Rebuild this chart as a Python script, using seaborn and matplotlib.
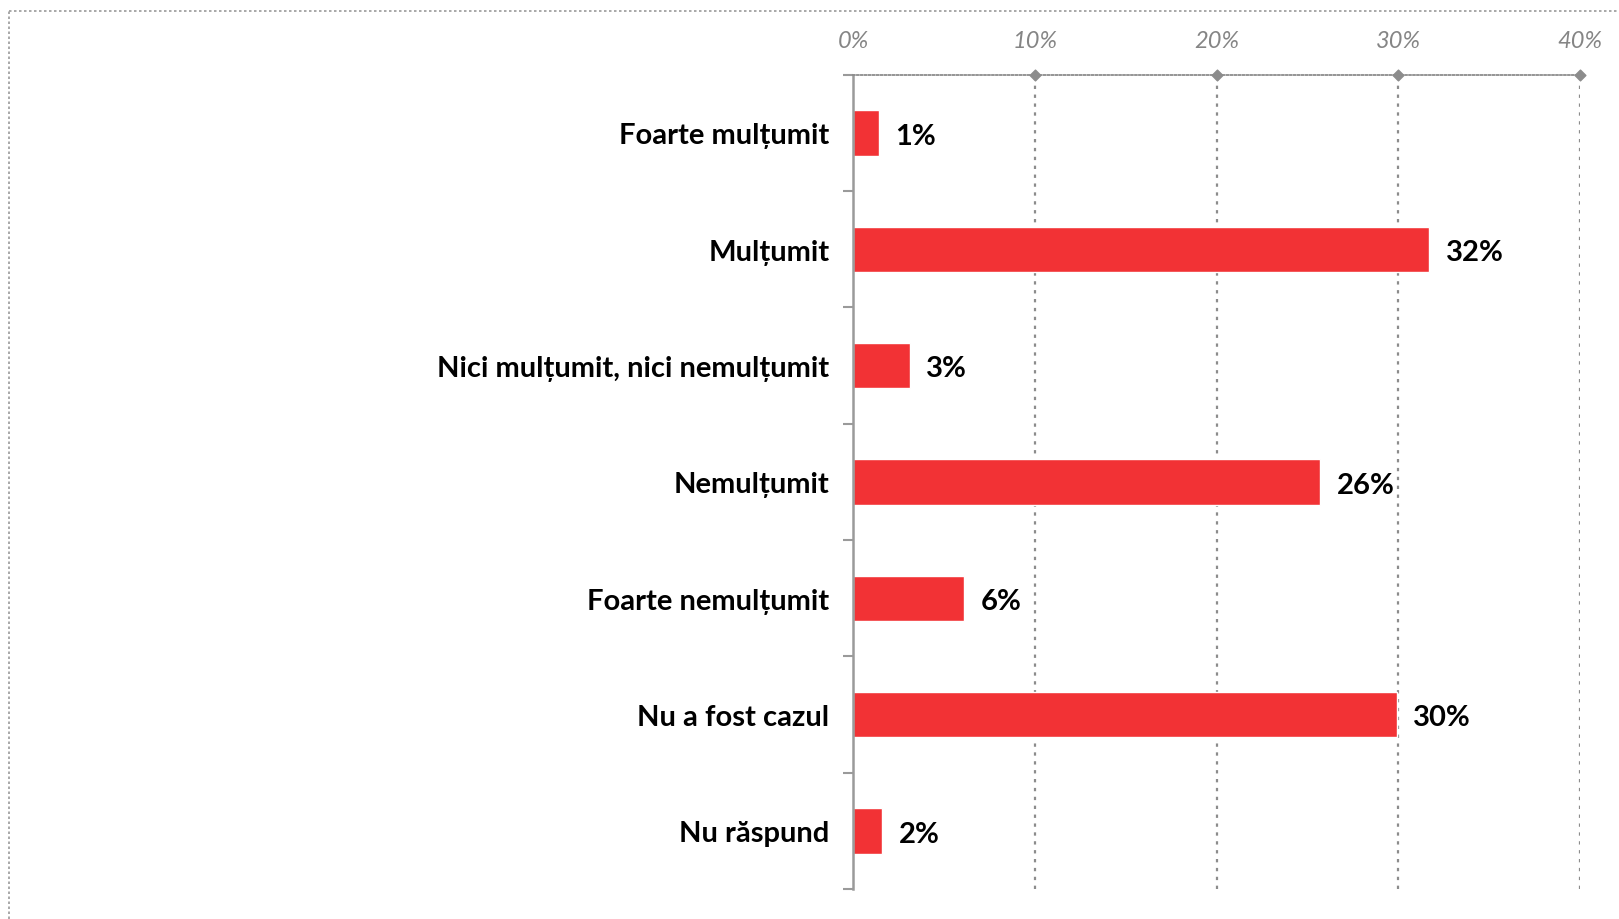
import pandas as pd
import matplotlib.pyplot as plt
import seaborn as sns
from matplotlib.lines import Line2D

# values (percent)
categories = ["Foarte mulțumit", "Mulțumit", "Nici mulțumit, nici nemulțumit",
              "Nemulțumit", "Foarte nemulțumit", "Nu a fost cazul", "Nu răspund"]
values = [1.4, 31.7, 3.1, 25.7, 6.1, 29.9, 1.6]
x_ticks = [0, 10, 20, 30, 40]

df = pd.DataFrame({"categorie": categories, "procent": values})

sns.set_style("white")
plt.rcParams['font.family'] = ['Lato', 'DejaVu Sans']

fig = plt.figure(figsize=(16.19, 9.2), dpi=100)
ax = fig.add_axes([0.527, 0.0326, 0.449, 0.885])

sns.barplot(data=df, y="categorie", x="procent", orient="h", color="#F23235",
            saturation=1, width=0.39, ax=ax)

ax.set_xlim(0, 40)
ax.set_ylim(len(categories) - 0.5, -0.5)
ax.set_xlabel("")
ax.set_ylabel("")

# percentages on top
ax.xaxis.tick_top()
ax.set_xticks(x_ticks)
ax.set_xticklabels([f"{t}%" for t in x_ticks], fontsize=17, style="italic", color="#858585")
ax.tick_params(axis="x", length=0, pad=17)

# category labels + separators between categories
ax.set_yticks(range(len(categories)))
ax.set_yticklabels(categories, fontsize=21, fontweight="bold", color="black")
ax.tick_params(axis="y", length=0, pad=17)
ax.set_yticks([i - 0.5 for i in range(len(categories) + 1)], minor=True)
ax.tick_params(axis="y", which="minor", left=True, length=7, width=1.5,
               color="#9a9a9a", direction="out")

# grid
for t in x_ticks[1:]:
    ax.axvline(t, color="#8c8c8c", lw=1.6, ls=(0, (1.5, 2.5)), zorder=0)
ax.scatter(x_ticks[1:], [-0.5] * 4, marker="D", s=30, color="#8c8c8c", clip_on=False, zorder=3)

for side in ["right", "bottom"]:
    ax.spines[side].set_visible(False)
ax.spines["left"].set_color("#9a9a9a")
ax.spines["left"].set_linewidth(1.8)
ax.spines["top"].set_color("#8c8c8c")
ax.spines["top"].set_linewidth(1.3)
ax.spines["top"].set_linestyle((0, (1, 1.2)))

# value labels
for i, v in enumerate(values):
    ax.annotate(f"{round(v)}%", xy=(v, i), xytext=(12, -2), textcoords="offset points",
                va="center", ha="left", fontsize=21, fontweight="bold", color="black")

# dotted frame around the figure (top and left visible)
fig.add_artist(Line2D([0.0056, 1.0], [0.987, 0.987], transform=fig.transFigure,
                      color="#9a9a9a", lw=1.2, ls=(0, (1.5, 1.5))))
fig.add_artist(Line2D([0.0056, 0.0056], [0.0, 0.987], transform=fig.transFigure,
                      color="#9a9a9a", lw=1.2, ls=(0, (1.5, 1.5))))

plt.savefig("out.png", dpi=100)
